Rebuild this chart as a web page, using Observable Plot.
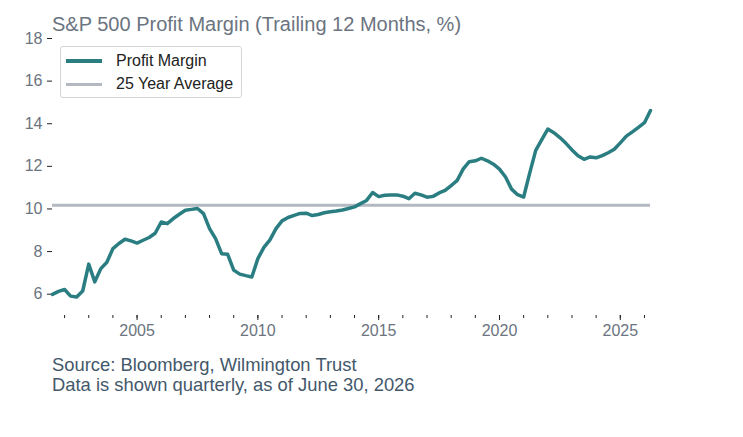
<!DOCTYPE html>
<html>
<head>
<meta charset="utf-8">
<script src="https://cdn.jsdelivr.net/npm/d3@7"></script>
<script src="https://cdn.jsdelivr.net/npm/@observablehq/plot@0.6"></script>
<style>
  html, body { margin: 0; padding: 0; background: #fff; }
  #wrap { position: relative; width: 743px; height: 437px; font-family: "Liberation Sans", Arial, sans-serif; }
  #title { position: absolute; left: 52px; top: 14px; font-size: 20px; line-height: 20px; color: #6b7480; white-space: nowrap; }
  #legend { position: absolute; left: 60px; top: 46px; width: 182px; height: 52px; border: 1px solid #d4d6d9; border-radius: 3px; background: #fff; box-sizing: border-box; }
  .item { position: absolute; left: 5px; height: 20px; display: flex; align-items: center; font-size: 16px; color: #222; }
  .swatch { width: 36px; height: 3px; margin-right: 14px; }
  #caption { position: absolute; left: 52px; top: 355px; font-size: 18.4px; line-height: 20px; color: #44586b; white-space: nowrap; }
  #chart { position: absolute; left: 0; top: 0; }
</style>
</head>
<body>
<div id="wrap">
  <div id="chart"></div>
  <div id="title">S&amp;P 500 Profit Margin (Trailing 12 Months, %)</div>
  <div id="legend">
    <div class="item" style="top:4px"><span class="swatch" style="background:#2a7e82;height:4px"></span>Profit Margin</div>
    <div class="item" style="top:27px"><span class="swatch" style="background:#b3b9c0"></span>25 Year Average</div>
  </div>
  <div id="caption">Source: Bloomberg, Wilmington Trust<br>Data is shown quarterly, as of June 30, 2026</div>
</div>
<script>
// Quarterly S&P 500 trailing-12-month profit margin (%), first quarter ending mid-2001
const firstQuarter = 2001.5;
const margin = [
  5.99, 6.13, 6.22, 5.91, 5.87, 6.15, 7.41, 6.58, 7.20, 7.50,
  8.14, 8.38, 8.58, 8.50, 8.40, 8.53, 8.66, 8.86, 9.39, 9.31,
  9.55, 9.75, 9.94, 9.98, 10.02, 9.78, 9.08, 8.61, 7.90, 7.87,
  7.13, 6.94, 6.87, 6.81, 7.67, 8.20, 8.55, 9.08, 9.44, 9.60,
  9.70, 9.79, 9.80, 9.69, 9.74, 9.82, 9.87, 9.90, 9.95, 10.02,
  10.10, 10.25, 10.40, 10.77, 10.58, 10.64, 10.66, 10.66, 10.60, 10.48,
  10.74, 10.66, 10.55, 10.59, 10.75, 10.87, 11.10, 11.34, 11.88, 12.22,
  12.26, 12.38, 12.26, 12.10, 11.87, 11.50, 10.93, 10.67, 10.56, 11.68,
  12.75, 13.25, 13.75, 13.58, 13.35, 13.08, 12.77, 12.50, 12.33, 12.44,
  12.40, 12.50, 12.64, 12.80, 13.10, 13.42, 13.62, 13.83, 14.05, 14.62
];
const average25y = 10.17;
const yTicks = [6, 8, 10, 12, 14, 16, 18];
const majorYears = [2005, 2010, 2015, 2020, 2025];
const minorYears = d3.range(2002, 2027);

const rows = margin.map((v, i) => ({year: firstQuarter + i * 0.25, margin: v}));

const chart = Plot.plot({
  width: 743,
  height: 345,
  marginTop: 38,
  marginBottom: 30,
  marginLeft: 52,
  marginRight: 93,
  style: {fontFamily: "'Liberation Sans', Arial, sans-serif", fontSize: "16px", background: "transparent"},
  x: {domain: [firstQuarter, firstQuarter + (margin.length - 1) * 0.25]},
  y: {domain: [5, 18]},
  marks: [
    Plot.axisY({ticks: yTicks, tickSize: 5, tickPadding: 5, label: null, stroke: "#222", fill: "#6b7480", fontSize: 16}),
    Plot.axisX({ticks: minorYears, tickSize: 3, tickFormat: () => "", label: null, stroke: "#222"}),
    Plot.axisX({ticks: majorYears, tickSize: 5, tickPadding: 4, tickFormat: "d", label: null, stroke: "#222", fill: "#6b7480", fontSize: 16}),
    Plot.ruleY([average25y], {stroke: "#b3b9c0", strokeWidth: 3}),
    Plot.line(rows, {x: "year", y: "margin", stroke: "#2a7e82", strokeWidth: 3.5})
  ]
});
document.getElementById("chart").appendChild(chart);
</script>
</body>
</html>
